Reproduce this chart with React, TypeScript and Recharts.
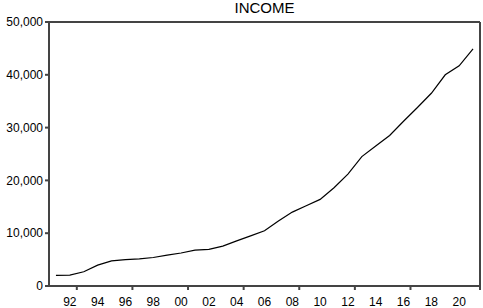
import React from 'react';
import { LineChart, Line, XAxis, YAxis } from 'recharts';

const years = [
  1991, 1992, 1993, 1994, 1995, 1996, 1997, 1998, 1999, 2000,
  2001, 2002, 2003, 2004, 2005, 2006, 2007, 2008, 2009, 2010,
  2011, 2012, 2013, 2014, 2015, 2016, 2017, 2018, 2019, 2020, 2021,
];
const income = [
  2000, 2050, 2700, 3950, 4750, 5000, 5150, 5400, 5850, 6250,
  6800, 6950, 7550, 8550, 9500, 10450, 12300, 14000, 15200, 16400,
  18600, 21200, 24500, 26500, 28500, 31200, 33800, 36500, 40000, 41700, 44900,
];
const yTicks = [0, 10000, 20000, 30000, 40000, 50000];
const xLabelTicks = [1992, 1994, 1996, 1998, 2000, 2002, 2004, 2006, 2008, 2010, 2012, 2014, 2016, 2018, 2020];
const xBoundaryTicks = [1990.5, ...years.map((y) => y + 0.5)];
const title = 'INCOME';

const data = years.map((year, i) => ({ year, income: income[i] }));
const xDomain: [number, number] = [1990.5, 2021.5];
const font = '"Liberation Sans", Arial, sans-serif';
const frame = '#444444';

const EmptyTick = () => <g />;

export default function App() {
  return (
    <div style={{ position: 'absolute', left: 0, top: 0, width: 483, height: 308 }}>
      <div
        style={{
          position: 'absolute',
          left: 49,
          width: 431,
          top: 0,
          textAlign: 'center',
          fontFamily: font,
          fontSize: 15,
          lineHeight: '15px',
          color: '#000',
        }}
      >
        {title}
      </div>
      <LineChart width={483} height={308} data={data} margin={{ top: 21, right: 0, bottom: 0, left: 0 }}>
        <XAxis
          xAxisId="t"
          orientation="top"
          type="number"
          dataKey="year"
          domain={xDomain}
          height={1}
          tick={false}
          tickLine={false}
          stroke={frame}
          strokeWidth={2}
        />
        <XAxis
          xAxisId="a"
          type="number"
          dataKey="year"
          domain={xDomain}
          ticks={xBoundaryTicks}
          tick={EmptyTick}
          tickSize={4}
          height={5}
          stroke={frame}
          strokeWidth={2}
        />
        <XAxis
          xAxisId="b"
          type="number"
          dataKey="year"
          domain={xDomain}
          ticks={xLabelTicks}
          tickLine={false}
          axisLine={false}
          tickSize={0}
          tickMargin={6}
          height={17}
          tickFormatter={(v: number) => String(v).slice(2)}
          tick={{ fontSize: 12, fill: '#000', fontFamily: font }}
        />
        <YAxis
          yAxisId="l"
          domain={[0, 50000]}
          ticks={yTicks}
          width={49}
          tickSize={4}
          tickMargin={2}
          stroke={frame}
          strokeWidth={2}
          tickFormatter={(v: number) => v.toLocaleString('en-US')}
          tick={{ fontSize: 12, fill: '#000', fontFamily: font }}
        />
        <YAxis
          yAxisId="r"
          orientation="right"
          domain={[0, 50000]}
          width={3}
          tick={false}
          tickLine={false}
          stroke={frame}
          strokeWidth={2}
        />
        <Line
          xAxisId="a"
          yAxisId="l"
          type="linear"
          dataKey="income"
          stroke="#000"
          strokeWidth={1.2}
          dot={false}
          isAnimationActive={false}
        />
      </LineChart>
    </div>
  );
}
